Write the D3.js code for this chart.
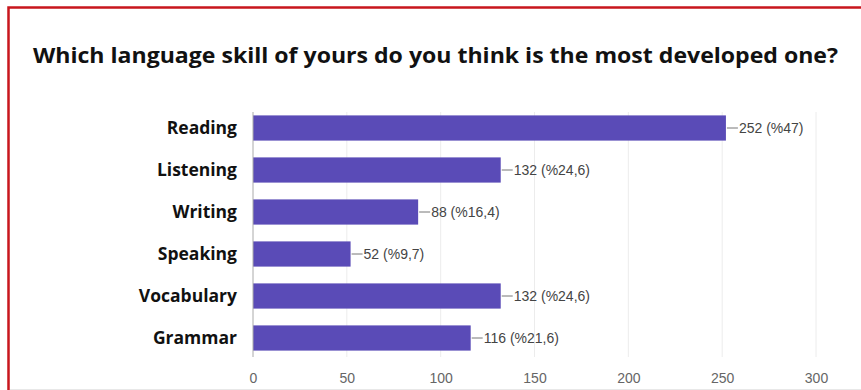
<!DOCTYPE html>
<html>
<head>
<meta charset="utf-8">
<script src="https://cdn.jsdelivr.net/npm/d3@7"></script>
<style>
body { margin: 0; background: #fff; }
</style>
</head>
<body>
<svg width="861" height="390"></svg>
<script>
var categories = ["Reading", "Listening", "Writing", "Speaking", "Vocabulary", "Grammar"];
var counts = [252, 132, 88, 52, 132, 116];
var percents = ["%47", "%24,6", "%16,4", "%9,7", "%24,6", "%21,6"];
var ticks = [0, 50, 100, 150, 200, 250, 300];

var svg = d3.select("svg");

// frame
svg.append("rect").attr("x", 0).attr("y", 0).attr("width", 861).attr("height", 390).attr("fill", "#fff");
svg.append("path").attr("d", "M8.5,390 V7.5 H861").attr("fill", "none").attr("stroke", "#c8161d").attr("stroke-width", 2.5);
svg.append("line").attr("x1", 10).attr("x2", 861).attr("y1", 389.5).attr("y2", 389.5).attr("stroke", "#e8e8e8");

svg.append("text")
  .attr("x", 33).attr("y", 63)
  .attr("font-family", "Open Sans, sans-serif").attr("font-weight", 700).attr("font-size", 22)
  .attr("textLength", 805).attr("lengthAdjust", "spacingAndGlyphs")
  .attr("fill", "#111")
  .text("Which language skill of yours do you think is the most developed one?");

var x = d3.scaleLinear().domain([0, 300]).range([253, 816]);
var y = d3.scaleBand().domain(categories).range([107, 359]).paddingInner(0.4).paddingOuter(0.2);

// gridlines
svg.append("g").selectAll("line").data(ticks.slice(1)).enter().append("line")
  .attr("x1", function(d) { return x(d); }).attr("x2", function(d) { return x(d); })
  .attr("y1", 112).attr("y2", 357)
  .attr("stroke", "#ececec").attr("stroke-width", 1);

// bars
svg.append("g").selectAll("rect").data(counts).enter().append("rect")
  .attr("x", x(0))
  .attr("y", function(d, i) { return y(categories[i]); })
  .attr("width", function(d) { return x(d) - x(0); })
  .attr("height", y.bandwidth())
  .attr("fill", "#5a4bb7");

// baseline
svg.append("line").attr("x1", x(0)).attr("x2", x(0)).attr("y1", 112).attr("y2", 357)
  .attr("stroke", "#aaa").attr("stroke-width", 1);

// value labels with leader line
var lab = svg.append("g").selectAll("g").data(counts).enter().append("g")
  .attr("transform", function(d, i) { return "translate(" + x(d) + "," + (y(categories[i]) + y.bandwidth() / 2) + ")"; });
lab.append("line").attr("x1", 1).attr("x2", 12).attr("stroke", "#777");
lab.append("text").attr("x", 13).attr("dy", "0.35em")
  .attr("font-family", "Arial, Liberation Sans, sans-serif").attr("font-size", 14).attr("fill", "#444")
  .text(function(d, i) { return d + " (" + percents[i] + ")"; });

// category labels
svg.append("g").selectAll("text").data(categories).enter().append("text")
  .attr("x", 237)
  .attr("y", function(d) { return y(d) + y.bandwidth() / 2; })
  .attr("dy", "0.35em").attr("text-anchor", "end")
  .attr("font-family", "Open Sans, sans-serif").attr("font-weight", 700).attr("font-size", 17.5)
  .attr("fill", "#111")
  .text(function(d) { return d; });

// x axis
var axis = svg.append("g").attr("transform", "translate(0,378)")
  .call(d3.axisBottom(x).tickValues(ticks).tickSize(0).tickPadding(0));
axis.select(".domain").remove();
axis.selectAll("text").attr("font-family", "Arial, Liberation Sans, sans-serif").attr("font-size", 14)
  .attr("fill", "#666").attr("dy", "0.35em");
</script>
</body>
</html>
